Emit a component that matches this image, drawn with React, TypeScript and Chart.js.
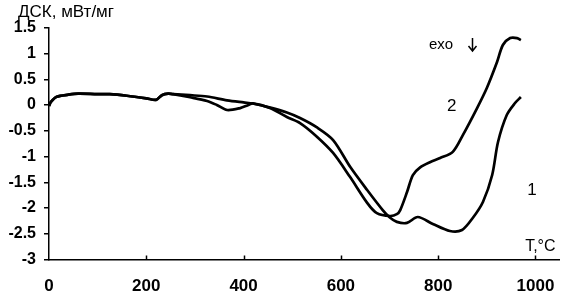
import React, { useEffect, useRef } from "react";
import { Chart, registerables } from "chart.js";

Chart.register(...registerables);

// Temperature (°C) and DSC signal (mW/mg) for curve 1
const temps1 = [0, 4, 16, 40, 60, 100, 125, 160, 200, 220, 232, 245, 255, 290, 325, 366, 400, 419, 455, 489, 516, 550, 584, 619, 654, 686, 700, 715, 736, 758, 789, 824, 849, 871, 892, 911, 923, 941, 958, 970];
const dsc1 = [-0.02, 0.06, 0.16, 0.2, 0.22, 0.21, 0.21, 0.18, 0.13, 0.1, 0.19, 0.22, 0.21, 0.19, 0.165, 0.09, 0.05, 0.03, -0.05, -0.146, -0.252, -0.43, -0.68, -1.2, -1.65, -2.04, -2.18, -2.27, -2.29, -2.175, -2.31, -2.447, -2.427, -2.194, -1.883, -1.359, -0.718, -0.194, 0.039, 0.155];

// Temperature (°C) and DSC signal (mW/mg) for curve 2
const temps2 = [0, 4, 16, 40, 60, 100, 125, 160, 200, 220, 232, 245, 255, 290, 325, 345, 366, 393, 410, 419, 454, 489, 516, 549, 584, 619, 654, 674, 701, 715, 722, 736, 748, 763, 783, 804, 830, 851, 880, 900, 921, 933, 948, 962, 970];
const dsc2 = [-0.02, 0.06, 0.16, 0.2, 0.22, 0.21, 0.21, 0.18, 0.13, 0.1, 0.19, 0.22, 0.21, 0.15, 0.078, 0.0, -0.097, -0.06, 0.0, 0.03, -0.058, -0.233, -0.35, -0.6, -0.93, -1.4, -1.9, -2.1, -2.155, -2.12, -2.04, -1.69, -1.36, -1.21, -1.11, -1.03, -0.91, -0.58, -0.06, 0.33, 0.835, 1.165, 1.3, 1.3, 1.26];

const xTicks = [0, 200, 400, 600, 800, 1000];
const yTicks = [1.5, 1, 0.5, 0, -0.5, -1, -1.5, -2, -2.5, -3];

const yTitle = "ДСК, мВт/мг";
const xTitle = "T,°C";
const exoLabel = "exo";
const curveLabels = ["1", "2"];

const FONT = '"Liberation Sans", Arial, "DejaVu Sans", sans-serif';

const annotations = {
  id: "annotations",
  afterDraw(chart: any) {
    const ctx = chart.ctx;
    const xs = chart.scales.x;
    const ys = chart.scales.y;
    ctx.save();
    ctx.fillStyle = "#000";
    ctx.strokeStyle = "#000";
    // inward x tick marks
    ctx.lineWidth = 1.5;
    for (const t of xTicks) {
      if (t === 0) continue;
      const px = Math.round(xs.getPixelForValue(t)) + 0.5;
      ctx.beginPath();
      ctx.moveTo(px, ys.bottom);
      ctx.lineTo(px, ys.bottom - 4);
      ctx.stroke();
    }
    // axis titles
    ctx.textBaseline = "middle";
    ctx.textAlign = "left";
    ctx.font = `17px ${FONT}`;
    ctx.fillText(yTitle, 18, 12);
    ctx.textAlign = "center";
    ctx.font = `16px ${FONT}`;
    ctx.fillText(xTitle, xs.getPixelForValue(1010), ys.getPixelForValue(-2.75));
    // exo arrow
    ctx.font = `15px ${FONT}`;
    ctx.fillText(exoLabel, xs.getPixelForValue(806), ys.getPixelForValue(1.17));
    const ax = Math.round(xs.getPixelForValue(869)) + 0.5;
    const ay0 = ys.getPixelForValue(1.3);
    const ay1 = ys.getPixelForValue(1.05);
    ctx.lineWidth = 1.5;
    ctx.beginPath();
    ctx.moveTo(ax, ay0);
    ctx.lineTo(ax, ay1);
    ctx.moveTo(ax - 4, ay1 - 5);
    ctx.lineTo(ax, ay1);
    ctx.lineTo(ax + 4, ay1 - 5);
    ctx.stroke();
    // curve labels
    ctx.font = `17px ${FONT}`;
    ctx.fillText(curveLabels[0], xs.getPixelForValue(993), ys.getPixelForValue(-1.66));
    ctx.fillText(curveLabels[1], xs.getPixelForValue(828), ys.getPixelForValue(-0.02));
    ctx.restore();
  },
};

export default function App() {
  const ref = useRef<HTMLCanvasElement | null>(null);

  useEffect(() => {
    if (!ref.current) return;
    const mk = (xs: number[], ys: number[]) => xs.map((x, i) => ({ x, y: ys[i] }));
    const chart = new Chart(ref.current, {
      type: "line",
      data: {
        datasets: [
          { label: "1", data: mk(temps1, dsc1), borderColor: "#000", borderWidth: 2.7, pointRadius: 0, tension: 0.3, fill: false },
          { label: "2", data: mk(temps2, dsc2), borderColor: "#000", borderWidth: 2.7, pointRadius: 0, tension: 0.3, fill: false },
        ],
      },
      options: {
        responsive: false,
        animation: false,
        devicePixelRatio: 1,
        layout: { padding: { top: 27.75, right: 2.2, left: 0, bottom: 0 } },
        plugins: { legend: { display: false }, tooltip: { enabled: false } },
        scales: {
          x: {
            type: "linear",
            min: 0,
            max: 1050,
            afterBuildTicks: (s: any) => {
              s.ticks = xTicks.map((v) => ({ value: v }));
            },
            afterFit: (s: any) => {
              s.height = 37.5;
              s.paddingLeft = 0;
              s.paddingRight = 0;
              s.paddingTop = 0;
              s.paddingBottom = 0;
            },
            grid: { display: true, drawOnChartArea: false, drawTicks: false },
            border: { display: true, color: "#000", width: 1.5 },
            ticks: {
              color: "#000",
              padding: 17,
              autoSkip: false,
              maxRotation: 0,
              font: { family: FONT, size: 17, weight: "bold" },
              callback: (v: any) => String(v),
            },
          },
          y: {
            type: "linear",
            min: -3,
            max: 1.5,
            afterBuildTicks: (s: any) => {
              s.ticks = yTicks.map((v) => ({ value: v }));
            },
            afterFit: (s: any) => {
              s.width = 49;
              s.paddingTop = 0;
              s.paddingBottom = 0;
            },
            grid: { display: true, drawOnChartArea: false, drawTicks: true, tickLength: 5, color: "#000", lineWidth: 1.5 },
            border: { display: true, color: "#000", width: 1.5 },
            ticks: {
              color: "#000",
              padding: 8,
              autoSkip: false,
              font: { family: FONT, size: 16, weight: "bold" },
              callback: (v: any) => String(v),
            },
          },
        },
      },
      plugins: [annotations],
    });
    return () => chart.destroy();
  }, []);

  return (
    <div style={{ position: "fixed", left: 0, top: 0, width: 562, height: 297, background: "#fff" }}>
      <canvas ref={ref} width={562} height={297} style={{ width: 562, height: 297, display: "block" }} />
    </div>
  );
}
